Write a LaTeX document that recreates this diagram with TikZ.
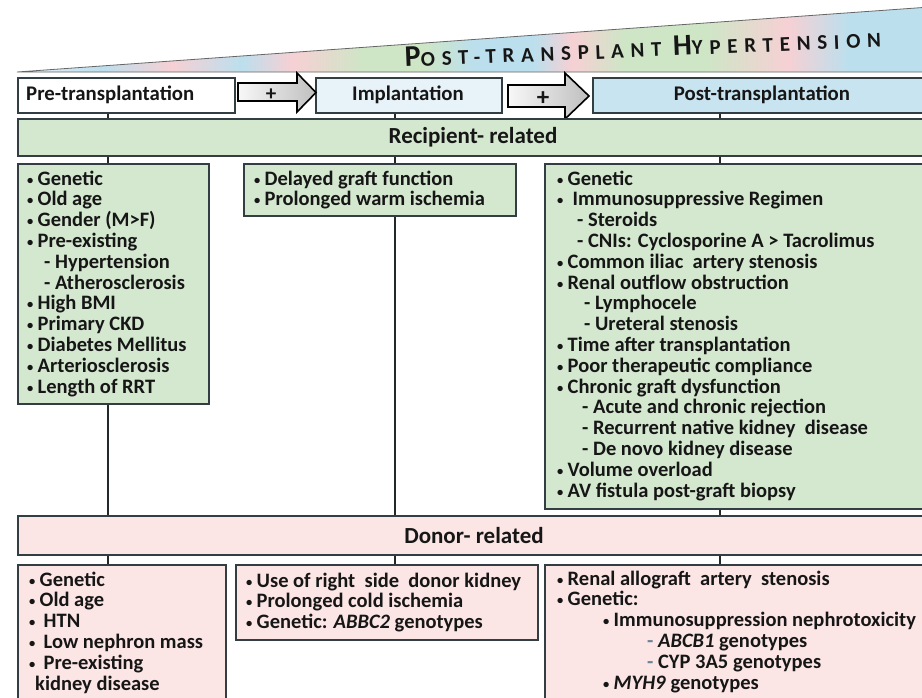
\documentclass[tikz,border=0pt]{standalone}
\usepackage{fontspec}
\setmainfont{Carlito}
\newfontfamily\titlefont[LetterSpace=32]{Carlito}
\definecolor{edge}{RGB}{50,62,66}
\definecolor{conncol}{RGB}{35,40,42}
\definecolor{grn}{RGB}{212,231,207}
\definecolor{pnk}{RGB}{252,229,229}
\definecolor{implc}{RGB}{231,243,249}
\definecolor{postc}{RGB}{200,228,240}
\definecolor{dashc}{RGB}{110,130,150}
\definecolor{ink}{RGB}{22,22,22}
\definecolor{wl}{RGB}{234,241,246}
\definecolor{wb}{RGB}{188,223,237}
\definecolor{wp}{RGB}{246,208,212}
\definecolor{wg}{RGB}{206,230,198}
\pgfdeclarehorizontalshading{wedgeshade}{100bp}{color(0bp)=(wl); color(25bp)=(wl); color(29.6bp)=(wb); color(33.5bp)=(wp); color(37.3bp)=(wb); color(40.1bp)=(wp); color(44bp)=(wg); color(47.3bp)=(wg); color(50bp)=(wb); color(53.3bp)=(wb); color(55.4bp)=(wp); color(58.3bp)=(wg); color(62.7bp)=(wg); color(67.2bp)=(wp); color(70.5bp)=(wb); color(75bp)=(wb); color(100bp)=(wb)}
\newcommand\mybody{\bfseries\fontsize{20.5}{20.8}\selectfont}
\newcommand\myhead{\bfseries\fontsize{20.8}{22}\selectfont}
\newcommand\mybar{\bfseries\fontsize{23}{24}\selectfont}
\newcommand\bul{\makebox[10.5pt][l]{\raisebox{1pt}{\fontsize{12.5}{12.5}\selectfont •}}}
\begin{document}
\begin{tikzpicture}[x=1pt,y=-1pt,
  box/.style={draw=edge, line width=1.6pt, inner sep=0pt, anchor=north west},
  conn/.style={draw=conncol, line width=1.6pt},
  txt/.style={anchor=base west, inner sep=0pt, font=\mybody, text=ink},
  hdr/.style={inner sep=0pt, font=\myhead, text=ink},
  blockarrow/.style={draw=black, line width=1.6pt, left color=gray!6, right color=gray!50, line join=miter}]
\useasboundingbox (0,0) rectangle (922,697);
\clip (0,0) rectangle (922,697);
\fill[white] (0,0) rectangle (922,697);
% title wedge
\path[shading=wedgeshade, draw=gray!80!black, line width=0.8pt] (17,72) -- (930,7) -- (930,72) -- cycle;
\node[rotate=2.4, anchor=base west, inner sep=0pt, text=ink] (title) at (405,67)
  {\titlefont\bfseries\fontsize{30}{30}\selectfont P\fontsize{21}{21}\selectfont OST-TRANSPLANT \fontsize{30}{30}\selectfont H\fontsize{21}{21}\selectfont YPERTENSION};
% top row
\node[box, fill=white, minimum width=217pt, minimum height=35pt] (pre) at (17,77) {};
\node[box, fill=implc, minimum width=186pt, minimum height=35pt] (impl) at (315,77) {};
\node[box, fill=postc, minimum width=340pt, minimum height=35pt] (post) at (592,77) {};
\node[hdr, anchor=west] (pret) at (26,95) {Pre-transplantation};
\node[hdr] (implt) at (408,95) {Implantation};
\node[hdr] (postt) at (762,95) {Post-transplantation};
% arrows
\path[blockarrow] (238,83) -- (297,83) -- (297,73) -- (316,92.5) -- (297,112) -- (297,101) -- (238,101) -- cycle;
\node[hdr, font=\bfseries\fontsize{21}{21}\selectfont] (plusA) at (271,95) {+};
\path[blockarrow] (508,85) -- (565,85) -- (565,73) -- (589,96) -- (565,119) -- (565,107) -- (508,107) -- cycle;
\node[hdr, font=\bfseries\fontsize{25}{25}\selectfont] (plusB) at (543,99) {+};
% bars
\node[box, fill=grn, minimum width=915pt, minimum height=37pt] (rec) at (17,118) {};
\node[hdr, font=\mybar] (rect) at (473,137) {Recipient- related};
\node[box, fill=pnk, minimum width=915pt, minimum height=39pt] (don) at (17,515) {};
\node[hdr, font=\mybar] (dont) at (474,536) {Donor- related};
% recipient boxes
\node[box, fill=grn, minimum width=191pt, minimum height=240pt] (g1) at (17,163) {};
\node[box, fill=grn, minimum width=272pt, minimum height=52pt] (g2) at (243,163) {};
\node[box, fill=grn, minimum width=390pt, minimum height=345pt] (g3) at (544,163) {};
% donor boxes
\node[box, fill=pnk, minimum width=208pt, minimum height=150pt] (p1) at (17,564) {};
\node[box, fill=pnk, minimum width=302pt, minimum height=75pt] (p2) at (235,564) {};
\node[box, fill=pnk, minimum width=390pt, minimum height=150pt] (p3) at (544,564) {};
% connectors
\coordinate (cA) at (108,0);
\coordinate (cB) at (395,0);
\coordinate (cC) at (720,0);
\draw[conn] (pre.south -| cA) -- (rec.north -| cA);
\draw[conn] (impl.south -| cB) -- (rec.north -| cB);
\draw[conn] (post.south -| cC) -- (rec.north -| cC);
\draw[conn] (rec.south -| cA) -- (g1.north -| cA);
\draw[conn] (rec.south -| cB) -- (g2.north -| cB);
\draw[conn] (rec.south -| cC) -- (g3.north -| cC);
\draw[conn] (g1.south -| cA) -- (don.north -| cA);
\draw[conn] (g2.south -| cB) -- (don.north -| cB);
\draw[conn] (g3.south -| cC) -- (don.north -| cC);
\draw[conn] (don.south -| cA) -- (p1.north -| cA);
\draw[conn] (don.south -| cB) -- (p2.north -| cB);
\draw[conn] (don.south -| cC) -- (p3.north -| cC);
% texts: recipient pre-transplantation
\foreach \x/\t [count=\i] in {27/{\bul Genetic}, 27/{\bul Old age}, 27/{\bul Gender (M>F)}, 27/{\bul Pre-existing},
   44/{- Hypertension}, 44/{- Atherosclerosis}, 27/{\bul High BMI}, 27/{\bul Primary CKD},
   27/{\bul Diabetes Mellitus}, 27/{\bul Arteriosclerosis}, 27/{\bul Length of RRT}}
  {\node[txt] (ga\i) at (\x, 185+20.8*\i-20.8) {\t};}
\foreach \x/\t [count=\i] in {254/{\bul Delayed graft function}, 254/{\bul Prolonged warm ischemia}}
  {\node[txt] (gb\i) at (\x, 185+20.8*\i-20.8) {\t};}
\foreach \x/\t [count=\i] in {557/{\bul Genetic}, 557/{\bul\hspace{5pt}Immunosuppressive Regimen}, 577/{- Steroids},
   577/{- CNIs: Cyclosporine A > Tacrolimus}, 557/{\bul Common iliac\ \ artery stenosis},
   557/{\bul Renal outflow obstruction}, 584/{- Lymphocele}, 584/{- Ureteral stenosis},
   557/{\bul Time after transplantation}, 557/{\bul Poor therapeutic compliance},
   557/{\bul Chronic graft dysfunction}, 582/{- Acute and chronic rejection},
   582/{- Recurrent native kidney\ \ disease}, 582/{- De novo kidney disease},
   557/{\bul Volume overload}, 557/{\bul AV fistula post-graft biopsy}}
  {\node[txt] (gc\i) at (\x, 185+20.8*\i-20.8) {\t};}
% texts: donor
\foreach \x/\t [count=\i] in {29/{\bul Genetic}, 29/{\bul Old age}, 29/{\bul\hspace{4pt}HTN}, 29/{\bul\hspace{4pt}Low nephron mass},
   29/{\bul\hspace{4pt}Pre-existing}, 35/{kidney disease}}
  {\node[txt] (pa\i) at (\x, 586+20.8*\i-20.8) {\t};}
\foreach \x/\t [count=\i] in {246/{\bul Use of right\ \ side\ \ donor kidney}, 246/{\bul Prolonged cold ischemia},
   246/{\bul Genetic: \textit{ABBC2} genotypes}}
  {\node[txt] (pb\i) at (\x, 587+20.8*\i-20.8) {\t};}
\foreach \x/\t [count=\i] in {557/{\bul Renal allograft\ \ artery\ \ stenosis}, 557/{\bul Genetic:},
   603/{\bul Immunosuppression nephrotoxicity}, 647/{{\color{dashc}-} \textit{ABCB1} genotypes},
   647/{{\color{dashc}-} CYP 3A5 genotypes}, 603/{\bul\textit{MYH9} genotypes}}
  {\node[txt] (pc\i) at (\x, 585+20.8*\i-20.8) {\t};}
\end{tikzpicture}
\end{document}
